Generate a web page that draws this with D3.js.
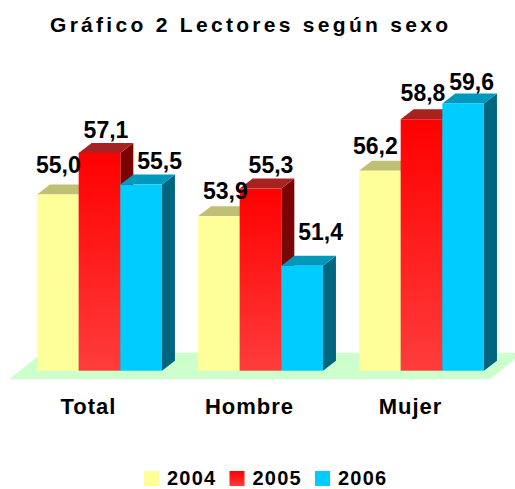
<!DOCTYPE html>
<html>
<head>
<meta charset="utf-8">
<script src="https://cdn.jsdelivr.net/npm/d3@7"></script>
<style>
  body { margin: 0; background: #fff; }
  text { font-family: "Liberation Sans", Arial, sans-serif; font-weight: bold; fill: #000; }
</style>
</head>
<body>
<div id="chart"></div>
<script>
// Chart data
var title = 'Gráfico 2 Lectores según sexo';
var categories = ['Total', 'Hombre', 'Mujer'];
var years = ['2004', '2005', '2006'];
var values2004 = [55.0, 53.9, 56.2];
var values2005 = [57.1, 55.3, 58.8];
var values2006 = [55.5, 51.4, 59.6];
var seriesValues = [values2004, values2005, values2006];

// Colours per series: front, top, side
var colors = [
  { front: '#FFFF99', top: '#C0C074', side: '#9A9A50' },
  { front: 'url(#redFront)', top: '#A82222', side: 'url(#redSide)' },
  { front: '#00CCFF', top: '#0099BE', side: '#006680' }
];

// label nudges (layout only), [series][category] = [dx, dy]
var labelNudge = [
  [[-6, -5], [0, -1], [-11, -1]],
  [[0, 1], [4, 0], [-5, -2]],
  [[12, 0], [12, -10], [2, 3]]
];

var width = 515, height = 489;
var depthX = 13, depthY = 10;

var svg = d3.select('#chart').append('svg')
  .attr('width', width)
  .attr('height', height);

var defs = svg.append('defs');
var g1 = defs.append('linearGradient').attr('id', 'redFront')
  .attr('x1', 0).attr('y1', 0).attr('x2', 0).attr('y2', 1);
g1.append('stop').attr('offset', '0%').attr('stop-color', '#FF0000');
g1.append('stop').attr('offset', '100%').attr('stop-color', '#FF3C3C');
var g2 = defs.append('linearGradient').attr('id', 'redSide')
  .attr('x1', 0).attr('y1', 0).attr('x2', 0).attr('y2', 1);
g2.append('stop').attr('offset', '0%').attr('stop-color', '#7E0000');
g2.append('stop').attr('offset', '100%').attr('stop-color', '#6A1414');

// scales
var x = d3.scaleBand()
  .domain(categories)
  .range([19, 502])
  .paddingInner(0.224)
  .paddingOuter(0.112);

var xs = d3.scaleBand()
  .domain(years)
  .range([0, x.bandwidth()]);

var y = d3.scaleLinear()
  .domain([46.1, 60])
  .range([370.7, 95.5]);

// Title
svg.append('text')
  .attr('x', 50)
  .attr('y', 32)
  .attr('font-size', 21)
  .attr('textLength', 398)
  .attr('lengthAdjust', 'spacing')
  .text(title);

// Floor
var floorY = y(y.domain()[0]) + 8.6;
var fl = x.range()[0] - 9.7, fr = x.range()[1] - 12;
svg.append('polygon')
  .attr('points', [
    [fl, floorY], [fr, floorY], [fr + 33, floorY - 26.6], [fl + 33, floorY - 26.6]
  ].map(function (p) { return p.join(','); }).join(' '))
  .attr('fill', '#CCFFCC');

// Bars
var base = y(y.domain()[0]);
categories.forEach(function (cat, ci) {
  years.forEach(function (yr, si) {
    var v = seriesValues[si][ci];
    var x0 = x(cat) + xs(yr), x1 = x0 + xs.bandwidth();
    var top = y(v);
    var c = colors[si];
    var g = svg.append('g');
    // side
    g.append('polygon')
      .attr('points', [[x1, top], [x1 + depthX, top - depthY], [x1 + depthX, base - depthY], [x1, base]]
        .map(function (p) { return p.join(','); }).join(' '))
      .attr('fill', c.side);
    // top
    g.append('polygon')
      .attr('points', [[x0, top], [x1, top], [x1 + depthX, top - depthY], [x0 + depthX, top - depthY]]
        .map(function (p) { return p.join(','); }).join(' '))
      .attr('fill', c.top);
    // front
    g.append('rect')
      .attr('x', x0)
      .attr('y', top)
      .attr('width', xs.bandwidth())
      .attr('height', base - top)
      .attr('fill', c.front);
  });
});

// Value labels
categories.forEach(function (cat, ci) {
  years.forEach(function (yr, si) {
    var v = seriesValues[si][ci];
    var n = labelNudge[si][ci];
    svg.append('text')
      .attr('x', x(cat) + xs(yr) + xs.bandwidth() / 2 + depthX / 2 + n[0])
      .attr('y', y(v) - 16 + n[1])
      .attr('text-anchor', 'middle')
      .attr('font-size', 23)
      .text(d3.format('.1f')(v).replace('.', ','));
  });
});

// Category labels
svg.selectAll('.cat')
  .data(categories)
  .enter()
  .append('text')
  .attr('class', 'cat')
  .attr('x', function (d) { return x(d) + x.bandwidth() / 2 - 11; })
  .attr('y', 414)
  .attr('text-anchor', 'middle')
  .attr('font-size', 22)
  .attr('letter-spacing', 1)
  .text(function (d) { return d; });

// Legend
var legend = svg.selectAll('.legend')
  .data(years)
  .enter()
  .append('g')
  .attr('class', 'legend')
  .attr('transform', function (d, i) { return 'translate(' + (144 + i * 85.5) + ',471)'; });
legend.append('rect')
  .attr('width', 15)
  .attr('height', 15)
  .attr('fill', function (d, i) { return colors[i].front; });
legend.append('text')
  .attr('x', 23)
  .attr('y', 14)
  .attr('font-size', 20)
  .attr('letter-spacing', 1.2)
  .text(function (d) { return d; });
</script>
</body>
</html>
